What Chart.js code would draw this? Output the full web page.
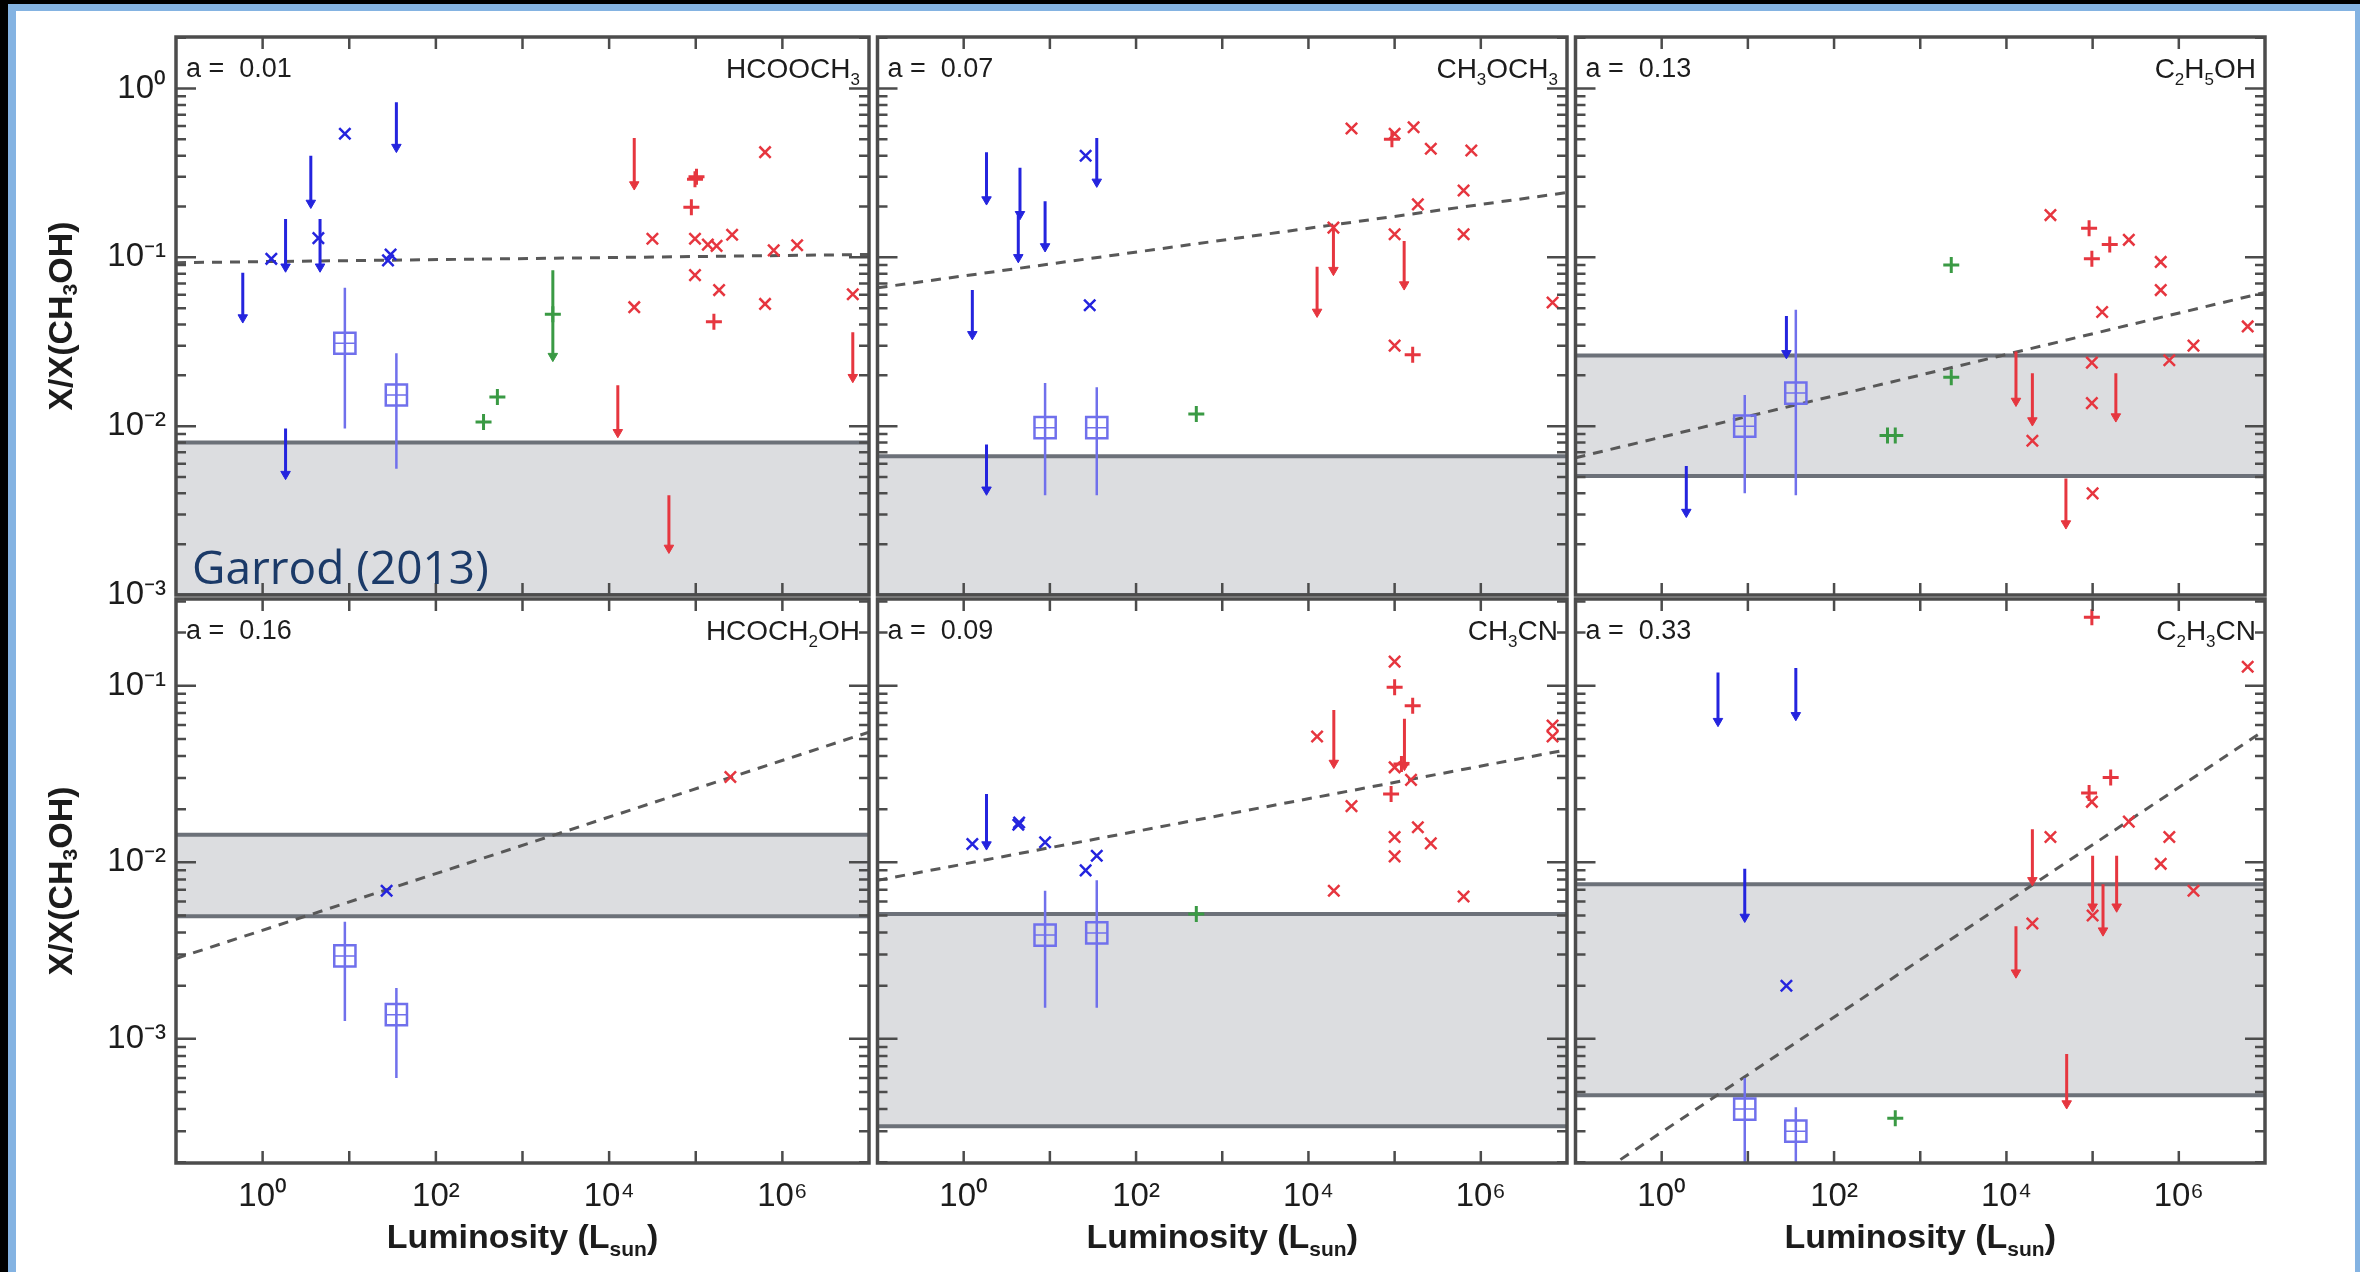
<!DOCTYPE html>
<html lang="en">
<head>
<meta charset="utf-8">
<title>X/X(CH3OH) versus luminosity</title>
<script src="https://cdn.jsdelivr.net/npm/chart.js"></script>
<style>
  html, body { margin: 0; padding: 0; width: 2360px; height: 1272px; overflow: hidden; background: #000; }
  #frame { position: absolute; left: 8px; top: 4px; width: 2352px; height: 1280px; background: #84b3e2; }
  #sheet { position: absolute; left: 16px; top: 11px; width: 2339px; height: 1270px; background: #fff; }
  .panel { position: absolute; }
</style>
</head>
<body>
<div id="frame"></div>
<div id="sheet"></div>
<div id="plots"></div>
<script>
// axes
const lumRange = [0.1, 1e7];
const lumLabels = [1, 1e2, 1e4, 1e6];
const ratioRanges = [[1e-3, 2.02], [1.98e-4, 0.31]];   // top row, bottom row
const ratioLabels = [[1e-3, 1e-2, 1e-1, 1], [1e-3, 1e-2, 1e-1]];

const molecules = ['HCOOCH3', 'CH3OCH3', 'C2H5OH', 'HCOCH2OH', 'CH3CN', 'C2H3CN'];
const slopes = [0.01, 0.07, 0.13, 0.16, 0.09, 0.33];

// shaded model range [low, high] and fitted trend [y at 0.1 Lsun, y at 1e7 Lsun]
const modelRanges = [[0.001, 0.008], [0.001, 0.00664], [0.00507, 0.0262], [0.00495, 0.0143], [0.00032, 0.0051], [0.000479, 0.0075]];
const trendEnds = [[0.093, 0.104], [0.066, 0.242], [0.0065, 0.062], [0.00285, 0.0546], [0.0079, 0.0434], [0.00014, 0.0562]];

// low-mass sources (blue): detections [L, X]
const blueCross = [
  [[1.26, 0.098], [4.4, 0.13], [8.9, 0.54], [28, 0.096], [30, 0.104]],
  [[26, 0.40], [29, 0.052]],
  [],
  [[27, 0.0069]],
  [[1.26, 0.0127], [4.3, 0.0163], [4.4, 0.0168], [8.8, 0.013], [26, 0.009], [35, 0.0109]],
  [[28, 0.002]]
];
// upper limits [L, from, to]
const blueLimits = [
  [[0.59, 0.081, 0.044], [1.84, 0.169, 0.088], [3.6, 0.40, 0.21], [4.6, 0.169, 0.088], [35, 0.83, 0.45], [1.84, 0.0097, 0.0052]],
  [[1.84, 0.42, 0.22], [4.5, 0.34, 0.18], [4.3, 0.18, 0.10], [8.8, 0.215, 0.116], [35, 0.51, 0.28], [1.26, 0.064, 0.035], [1.84, 0.0078, 0.0042]],
  [[1.93, 0.0058, 0.0031], [28, 0.045, 0.027]],
  [],
  [[1.84, 0.0244, 0.0126]],
  [[4.5, 0.119, 0.063], [36, 0.126, 0.068], [9.2, 0.0092, 0.0049]]
];
// boxed points with error bars [L, X, low, high]
const blueBoxes = [
  [[8.9, 0.031, 0.0097, 0.066], [35, 0.0153, 0.0056, 0.027]],
  [[8.8, 0.0098, 0.0039, 0.018], [35, 0.0098, 0.0039, 0.017]],
  [[9.2, 0.0100, 0.0040, 0.0153], [36, 0.0157, 0.0039, 0.049]],
  [[8.9, 0.00295, 0.00126, 0.0046], [35, 0.00137, 0.0006, 0.00194]],
  [[8.8, 0.00387, 0.0015, 0.0069], [35, 0.00398, 0.0015, 0.0079]],
  [[9.2, 0.0004, 0.00015, 0.0006], [36, 0.0003, 0.00015, 0.00041]]
];

// intermediate sources (green)
const greenCross = [
  [[355, 0.0106], [513, 0.0149], [2240, 0.046]],
  [[500, 0.0118]],
  [[2290, 0.090], [2290, 0.0195], [417, 0.0088], [513, 0.0088]],
  [],
  [[500, 0.0051]],
  [[513, 0.000355]]
];
const greenLimits = [[[2240, 0.084, 0.026]], [], [], [], [], []];

// high-mass sources (red)
const redCross = [
  [[31600, 0.129], [98000, 0.129], [138000, 0.119], [174000, 0.117], [263000, 0.136], [631000, 0.42], [794000, 0.11],
   [1.48e6, 0.118], [98000, 0.0785], [186000, 0.064], [19500, 0.0507], [631000, 0.053], [6.5e6, 0.0605]],
  [[31600, 0.58], [100000, 0.54], [166000, 0.59], [263000, 0.44], [776000, 0.43], [631000, 0.249], [186000, 0.206],
   [631000, 0.137], [100000, 0.137], [100000, 0.030], [6.8e6, 0.054], [19500, 0.15]],
  [[32400, 0.178], [263000, 0.127], [617000, 0.094], [617000, 0.064], [129000, 0.0475], [6.3e6, 0.039], [1.48e6, 0.030],
   [776000, 0.0246], [98000, 0.0238], [98000, 0.0137], [20000, 0.0082], [100000, 0.004]],
  [[251000, 0.0304]],
  [[100000, 0.137], [12600, 0.0516], [100000, 0.0345], [155000, 0.0293], [31600, 0.0208], [186000, 0.0158], [263000, 0.0128],
   [100000, 0.0139], [100000, 0.0108], [19700, 0.0069], [631000, 0.0064], [6.8e6, 0.0596], [6.8e6, 0.0516]],
  [[6.3e6, 0.128], [98000, 0.022], [263000, 0.017], [32400, 0.0139], [776000, 0.0139], [617000, 0.0098], [1.48e6, 0.0069],
   [20000, 0.0045], [100000, 0.005]]
];
const redPlus = [
  [[98000, 0.29], [102000, 0.30], [89000, 0.198], [162000, 0.0415]],
  [[93000, 0.50], [162000, 0.0265]],
  [[91000, 0.149], [158000, 0.119], [98000, 0.098]],
  [],
  [[100000, 0.098], [162000, 0.077], [120000, 0.036], [91000, 0.0244]],
  [[98000, 0.244], [162000, 0.0302], [91000, 0.0247]]
];
const redLimits = [
  [[19500, 0.51, 0.27], [6.5e6, 0.036, 0.0195], [12600, 0.0175, 0.0092], [49000, 0.0039, 0.0019]],
  [[19500, 0.156, 0.084], [129000, 0.125, 0.069], [12600, 0.088, 0.0475]],
  [[12900, 0.0277, 0.0141], [20000, 0.0206, 0.0108], [186000, 0.0206, 0.0114], [49000, 0.0049, 0.00265]],
  [],
  [[19700, 0.073, 0.0365], [130000, 0.065, 0.0355]],
  [[20000, 0.0154, 0.0079], [100000, 0.0109, 0.0056], [132000, 0.0075, 0.0041], [190000, 0.0109, 0.0056],
   [12900, 0.00434, 0.00237], [50000, 0.00082, 0.00043]]
];

// page layout (pixels)
const colEdges = [[176, 869], [872, 1567], [1570, 2265]];
const rowEdges = [[37, 595], [599, 1163]];
const PAD_T = 36, PAD_R = 30;

const FONT = '"Liberation Sans", Arial, Helvetica, sans-serif';
const TEXT = '#1c1c1c';
const FRAME = '#4c4c4c';
const BLUE = '#2424de', BLUE_SOFT = '#7070ec', RED = '#e6363f', GREEN = '#3a9a44';
const BOX_FILL = '#dcdde0', BOX_EDGE = '#6c7179';

const sup = {'-': '\u207B', '0': '\u2070', '1': '\u00B9', '2': '\u00B2', '3': '\u00B3', '4': '\u2074',
             '5': '\u2075', '6': '\u2076', '7': '\u2077', '8': '\u2078', '9': '\u2079'};
function powerLabel(v) {
  const e = Math.round(Math.log10(v));
  return '10' + String(e).split('').map(c => sup[c]).join('');
}

function pts(list) { return list.map(([x, y]) => ({x, y})); }
function drops(list) {
  const out = [];
  list.forEach(([x, a, b]) => out.push({x, y: a}, {x, y: b}, {x, y: null}));
  return out;
}
function heads(list) { return list.map(([x, a, b]) => ({x, y: b})); }
function bars(list) {
  const out = [];
  list.forEach(([x, y, lo, hi]) => out.push({x, y: lo}, {x, y: hi}, {x, y: null}));
  return out;
}

function limitSets(list, color) {
  return [
    { data: drops(list), showLine: true, borderColor: color, borderWidth: 3, pointRadius: 0, order: 1 },
    { data: heads(list), pointStyle: 'triangle', rotation: 180, pointRadius: 5.5,
      backgroundColor: color, borderColor: color, borderWidth: 1, order: 1 }
  ];
}
function crossSet(list, color, style) {
  return { data: pts(list), pointStyle: style, pointRadius: 8,
           borderColor: color, backgroundColor: color, borderWidth: style === 'cross' ? 3 : 2.5, order: 0 };
}

function panelDatasets(i) {
  const [lo, hi] = modelRanges[i];
  return [
    { data: [{x: lumRange[0], y: hi}, {x: lumRange[1], y: hi}], showLine: true, borderColor: BOX_EDGE,
      borderWidth: 4, pointRadius: 0, fill: '+1', backgroundColor: BOX_FILL, order: 9 },
    { data: [{x: lumRange[0], y: lo}, {x: lumRange[1], y: lo}], showLine: true, borderColor: BOX_EDGE,
      borderWidth: 4, pointRadius: 0, order: 9 },
    { data: [{x: lumRange[0], y: trendEnds[i][0]}, {x: lumRange[1], y: trendEnds[i][1]}], showLine: true,
      borderColor: '#585858', borderWidth: 3, borderDash: [10, 8], pointRadius: 0, order: 8 },
    { data: bars(blueBoxes[i]), showLine: true, borderColor: BLUE_SOFT, borderWidth: 2.5, pointRadius: 0, order: 3 },
    { data: blueBoxes[i].map(([x, y]) => ({x, y})), pointStyle: 'rect', pointRadius: 15,
      borderColor: BLUE_SOFT, backgroundColor: 'rgba(0,0,0,0)', borderWidth: 2.5, order: 2 },
    { data: blueBoxes[i].map(([x, y]) => ({x, y})), pointStyle: 'cross', pointRadius: 10,
      borderColor: BLUE_SOFT, borderWidth: 1.5, order: 2 },
    ...limitSets(blueLimits[i], BLUE),
    ...limitSets(greenLimits[i], GREEN),
    ...limitSets(redLimits[i], RED),
    crossSet(blueCross[i], BLUE, 'crossRot'),
    crossSet(greenCross[i], GREEN, 'cross'),
    crossSet(redCross[i], RED, 'crossRot'),
    crossSet(redPlus[i], RED, 'cross')
  ];
}

// frame and inward tick marks on all four sides
const frameTicks = {
  id: 'frameTicks',
  afterDatasetsDraw(chart) {
    const {ctx, chartArea: a, scales: {x, y}} = chart;
    ctx.save();
    ctx.strokeStyle = FRAME;
    ctx.lineWidth = 2.5;
    ctx.beginPath();
    for (let e = -1; e <= 7; e++) {
      const px = x.getPixelForValue(Math.pow(10, e));
      if (px < a.left + 2 || px > a.right - 2) continue;
      ctx.moveTo(px, a.bottom); ctx.lineTo(px, a.bottom - 12);
      ctx.moveTo(px, a.top); ctx.lineTo(px, a.top + 12);
    }
    for (let e = -4; e <= 0; e++) {
      for (let m = 1; m <= 9; m++) {
        const v = m * Math.pow(10, e);
        if (v <= y.min || v >= y.max) continue;
        const py = y.getPixelForValue(v);
        const len = m === 1 ? 20 : 10;
        ctx.moveTo(a.left, py); ctx.lineTo(a.left + len, py);
        ctx.moveTo(a.right, py); ctx.lineTo(a.right - len, py);
      }
    }
    ctx.stroke();
    ctx.lineWidth = 3.5;
    ctx.strokeRect(a.left, a.top, a.right - a.left, a.bottom - a.top);
    ctx.restore();
  }
};

// text with subscripts: parts = [[text, isSub], ...]
function drawRich(ctx, parts, x, y, size, weight, align) {
  const fontOf = sub => `${weight} ${sub ? Math.round(size * 0.62) : size}px ${FONT}`;
  let total = 0;
  parts.forEach(([t, sub]) => { ctx.font = fontOf(sub); total += ctx.measureText(t).width; });
  let cx = align === 'right' ? x - total : align === 'center' ? x - total / 2 : x;
  ctx.textAlign = 'left';
  parts.forEach(([t, sub]) => {
    ctx.font = fontOf(sub);
    ctx.fillText(t, cx, y + (sub ? size * 0.24 : 0));
    cx += ctx.measureText(t).width;
  });
}
function formulaParts(s) {
  return s.split(/(\d+)/).filter(Boolean).map(t => [t, /^\d+$/.test(t)]);
}

const panelText = {
  id: 'panelText',
  afterDraw(chart, args, opts) {
    const {ctx, chartArea: a} = chart;
    ctx.save();
    ctx.fillStyle = TEXT;
    ctx.textBaseline = 'alphabetic';
    ctx.font = `27px ${FONT}`;
    ctx.textAlign = 'left';
    ctx.fillText('a =  ' + opts.slope.toFixed(2), a.left + 10, a.top + 40);
    drawRich(ctx, formulaParts(opts.molecule), a.right - 9, a.top + 41, 28, 'normal', 'right');
    if (opts.yTitle) {
      ctx.save();
      ctx.translate(a.left - 113, (a.top + a.bottom) / 2);
      ctx.rotate(-Math.PI / 2);
      ctx.textBaseline = 'middle';
      drawRich(ctx, [['X/X(CH', false], ['3', true], ['OH)', false]], 0, 0, 34, 'bold', 'center');
      ctx.restore();
    }
    if (opts.xTitle) {
      drawRich(ctx, [['Luminosity (L', false], ['sun', true], [')', false]], (a.left + a.right) / 2, a.bottom + 85, 34, 'bold', 'center');
    }
    if (opts.credit) {
      ctx.fillStyle = '#1b3a68';
      ctx.font = '46px "Open Sans", "Noto Sans", sans-serif';
      ctx.textAlign = 'left';
      ctx.fillText(opts.credit, a.left + 16, a.bottom - 11);
    }
    ctx.restore();
  }
};

function buildPanel(i) {
  const row = Math.floor(i / 3), col = i % 3;
  const [left, right] = colEdges[col];
  const [top, bottom] = rowEdges[row];
  const yW = col === 0 ? 138 : 12;
  const xH = row === 1 ? 110 : 36;
  const w = yW + (right - left) + PAD_R;
  const h = PAD_T + (bottom - top) + xH;

  const div = document.createElement('div');
  div.className = 'panel';
  div.style.left = (left - yW) + 'px';
  div.style.top = (top - PAD_T) + 'px';
  div.style.width = w + 'px';
  div.style.height = h + 'px';
  const cv = document.createElement('canvas');
  cv.width = w; cv.height = h;
  cv.style.width = w + 'px'; cv.style.height = h + 'px';
  div.appendChild(cv);
  document.getElementById('plots').appendChild(div);

  new Chart(cv, {
    type: 'scatter',
    data: { datasets: panelDatasets(i) },
    options: {
      responsive: false,
      animation: false,
      devicePixelRatio: 1,
      events: [],
      layout: { padding: { left: 0, top: PAD_T, right: PAD_R, bottom: 0 } },
      plugins: {
        legend: { display: false },
        tooltip: { enabled: false },
        filler: { drawTime: 'beforeDatasetsDraw' },
        panelText: {
          slope: slopes[i],
          molecule: molecules[i],
          yTitle: col === 0,
          xTitle: row === 1,
          credit: i === 0 ? 'Garrod (2013)' : ''
        }
      },
      scales: {
        x: {
          type: 'logarithmic',
          position: 'bottom',
          min: lumRange[0],
          max: lumRange[1],
          grid: { display: false, drawTicks: false },
          border: { display: false },
          ticks: {
            display: row === 1, autoSkip: false, maxRotation: 0, padding: 14, color: TEXT,
            font: { family: FONT, size: 33 },
            callback: v => powerLabel(v)
          },
          afterBuildTicks: s => { s.ticks = lumLabels.map(v => ({value: v})); },
          afterFit: s => { s.height = xH; }
        },
        y: {
          type: 'logarithmic',
          position: 'left',
          min: ratioRanges[row][0],
          max: ratioRanges[row][1],
          grid: { display: false, drawTicks: false },
          border: { display: false },
          ticks: {
            display: col === 0, autoSkip: false, padding: 10, color: TEXT,
            font: { family: FONT, size: 33 },
            callback: v => powerLabel(v)
          },
          afterBuildTicks: s => { s.ticks = ratioLabels[row].map(v => ({value: v})); },
          afterFit: s => { s.width = yW; }
        }
      }
    },
    plugins: [frameTicks, panelText]
  });
}

for (let i = 0; i < 6; i++) buildPanel(i);
</script>
</body>
</html>
